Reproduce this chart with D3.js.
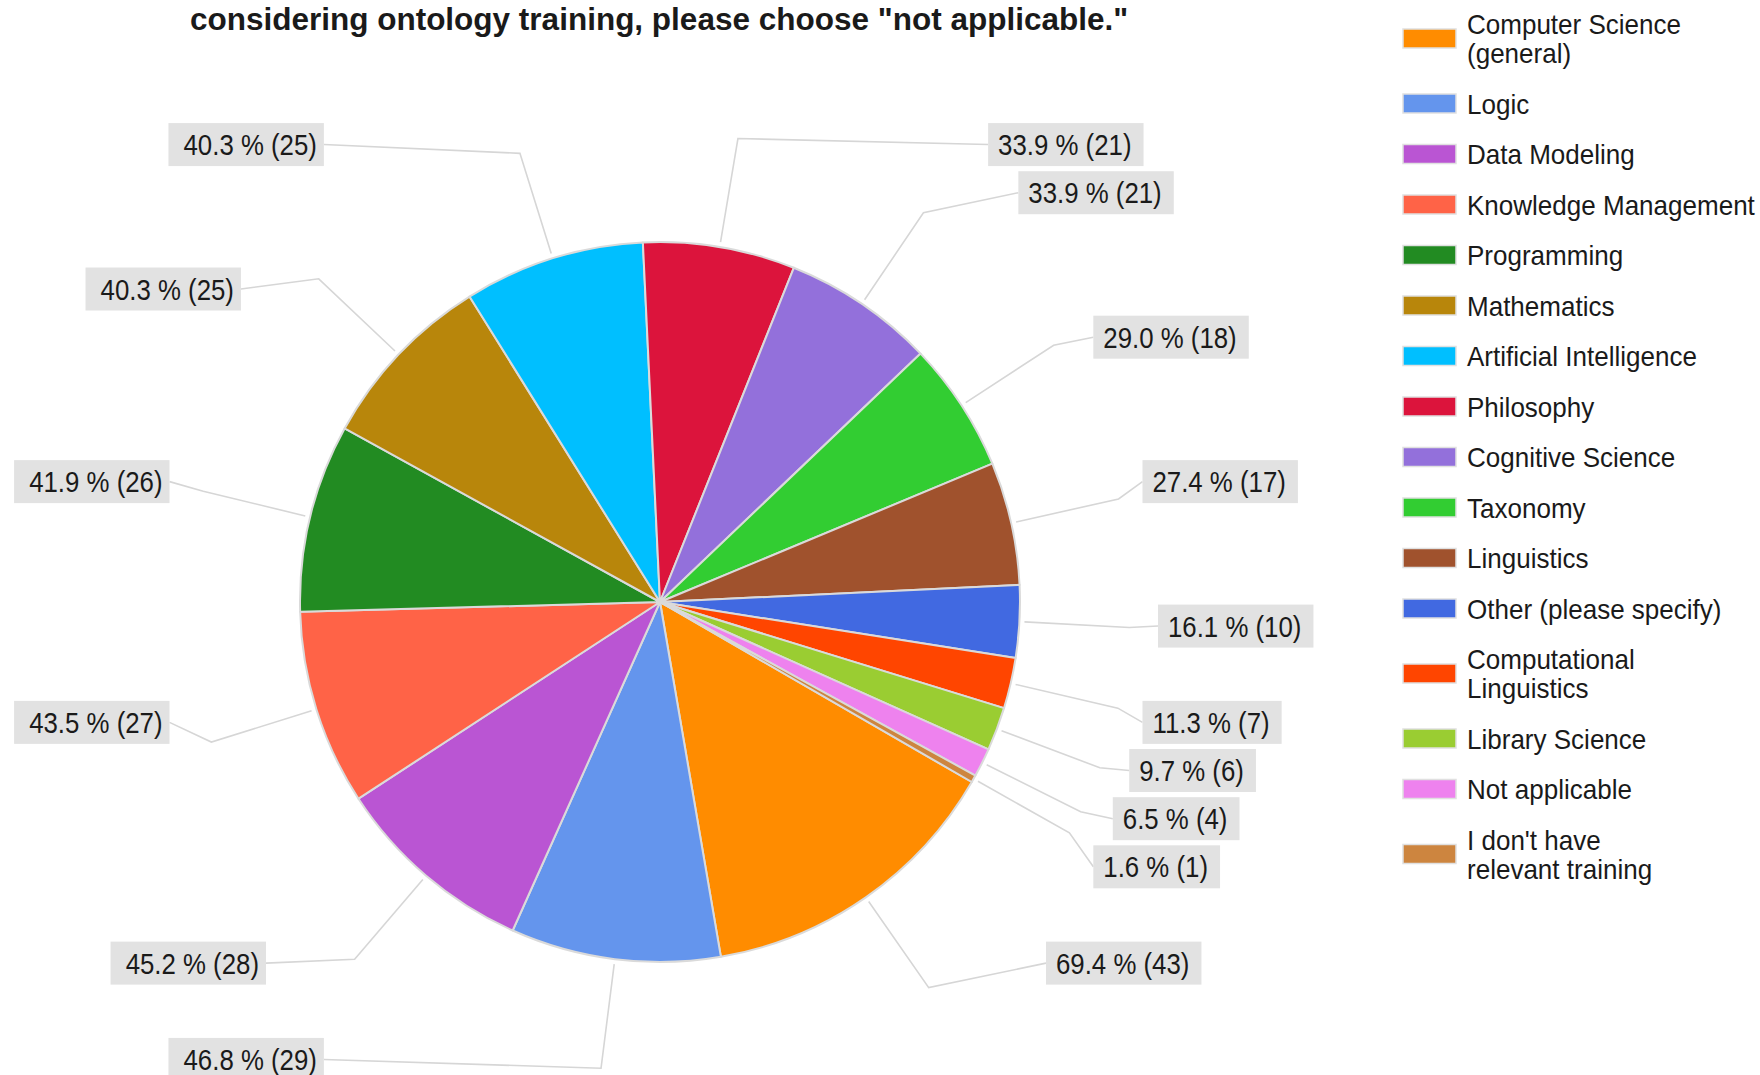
<!DOCTYPE html>
<html><head><meta charset="utf-8">
<script src="https://cdn.jsdelivr.net/npm/d3@7"></script>
<style>
body{margin:0;background:#fff}
svg{display:block}
text{font-family:"Liberation Sans",Arial,sans-serif;fill:#1a1a1a}
</style>
</head><body>
<svg id="chart" width="1760" height="1075"></svg>
<script>
// ---- data ----
const categories = ["Computer Science (general)","Logic","Data Modeling","Knowledge Management","Programming","Mathematics","Artificial Intelligence","Philosophy","Cognitive Science","Taxonomy","Linguistics","Other (please specify)","Computational Linguistics","Library Science","Not applicable","I don't have relevant training"];
const counts = [43,29,28,27,26,25,25,21,21,18,17,10,7,6,4,1];
const colors = ["#FF8C00","#6495ED","#BA55D3","#FF6347","#228B22","#B8860B","#00BFFF","#DC143C","#9370DB","#32CD32","#A0522D","#4169E1","#FF4500","#9ACD32","#EE82EE","#CD853F"];
const respondents = 62;
const titleLines = ['considering ontology training, please choose "not applicable."'];

// ---- layout ----
const W = 1760, H = 1075, cx = 660, cy = 602, R = 360;
const svg = d3.select("#chart");
const data = categories.map((c, i) => ({name: c, count: counts[i], color: colors[i]}));
const startA = 120 * Math.PI / 180;
const pie = d3.pie().sort(null).value(d => d.count).startAngle(startA).endAngle(startA + 2 * Math.PI);
const arcs = pie(data);
const arc = d3.arc().innerRadius(0).outerRadius(R);

// title
svg.append("text").attr("x", cx - 1).attr("y", 30).attr("text-anchor", "middle")
  .attr("font-weight", "bold").attr("font-size", 31.5).text(titleLines[0]);

// leader lines + labels
const rowH = 48.15, elbowR = 470;
const pt = (r, a) => [r * Math.sin(a), -r * Math.cos(a)];
const items = arcs.map(a => {
  const mid = (a.startAngle + a.endAngle) / 2;
  const side = Math.sin(mid) >= 0 ? 1 : -1;
  const rel = -467 * Math.cos(mid);
  const half = rel < 0 ? -1 : 1;
  return {a, mid, side, rel, half};
});
const taken = {};
items.slice().sort((p, q) => Math.abs(p.rel) - Math.abs(q.rel)).forEach(it => {
  const key = it.side + "_" + it.half;
  taken[key] = taken[key] || new Set();
  let j = Math.max(0, Math.round(Math.abs(it.rel) / rowH - 0.5));
  while (taken[key].has(j)) j++;
  taken[key].add(j);
  it.rowY = cy + it.half * (j + 0.5) * rowH;
  const dy = Math.abs(it.rowY - cy);
  const off = 503 - 0.003777 * Math.pow(dy, 1.75);
  it.edgeX = 656 + it.side * off;
});

const lineG = svg.append("g");
items.forEach(it => {
  const s = pt(R + 5, it.mid), e = pt(elbowR, it.mid);
  lineG.append("path")
    .attr("d", d3.line()([[cx + s[0], cy + s[1]], [cx + e[0], cy + e[1]], [it.edgeX, it.rowY]]))
    .attr("fill", "none").attr("stroke", "#d6d6d6").attr("stroke-width", 1.6);
});

// pie
const g = svg.append("g").attr("transform", `translate(${cx},${cy})`);
g.selectAll("path").data(arcs).join("path")
  .attr("d", arc).attr("fill", d => d.data.color)
  .attr("stroke", "#dadada").attr("stroke-width", 2).attr("stroke-linejoin", "round");

// label boxes
const sx = 0.89, fs = 29;
const labG = svg.append("g");
items.forEach(it => {
  const txt = (it.a.data.count / respondents * 100).toFixed(1) + " % (" + it.a.data.count + ")";
  const grp = labG.append("g");
  const rect = grp.append("rect");
  const t = grp.append("text").attr("font-size", fs).text(txt);
  const w = t.node().getComputedTextLength() * sx;
  const bw = w + 22, bh = 43;
  let bx, tx, anchor;
  if (it.side > 0) { bx = it.edgeX; tx = bx + 10; anchor = "start"; }
  else { bx = it.edgeX - bw; tx = it.edgeX - 7; anchor = "end"; }
  rect.attr("x", bx).attr("y", it.rowY - bh / 2).attr("width", bw).attr("height", bh).attr("fill", "#e2e2e2");
  t.attr("text-anchor", anchor).attr("transform", `translate(${tx},${it.rowY + 10.5}) scale(${sx},1)`);
});

// legend
const legFs = 28, legSx = 0.93, lineGap = 29;
function wrap(s) {
  if (s.length <= 24) return [s];
  const mid = s.length / 2;
  let best = -1, bd = 1e9;
  for (let i = 0; i < s.length; i++) if (s[i] === " " && Math.abs(i - mid) < bd) { bd = Math.abs(i - mid); best = i; }
  return [s.slice(0, best), s.slice(best + 1)];
}
const legG = svg.append("g");
let prevH = null, yc = 38.5;
data.forEach((d, i) => {
  const lines = wrap(d.name);
  const h = 50.5 + (lines.length - 1) * lineGap;
  if (prevH !== null) yc += prevH / 2 + h / 2;
  prevH = h;
  legG.append("rect").attr("x", 1403).attr("y", yc - 9.5).attr("width", 53).attr("height", 19)
    .attr("fill", d.color).attr("stroke", "#e0e0e0").attr("stroke-width", 1.5);
  lines.forEach((ln, k) => {
    const by = yc + 10 + (k - (lines.length - 1) / 2) * lineGap;
    legG.append("text").attr("font-size", legFs)
      .attr("transform", `translate(1467,${by}) scale(${legSx},1)`).text(ln);
  });
});
</script>
</body></html>
